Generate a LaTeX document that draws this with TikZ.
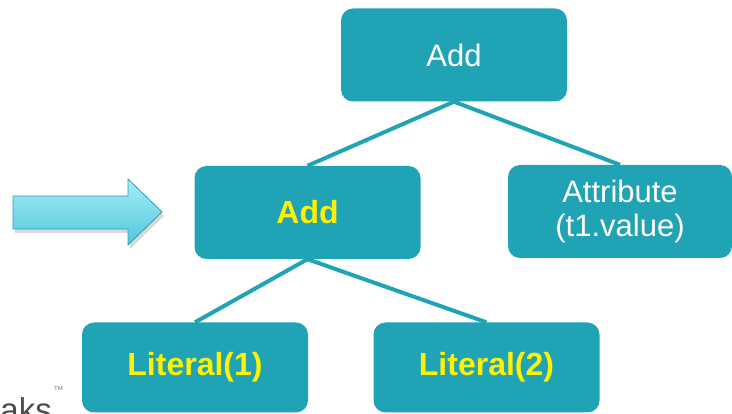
\documentclass[tikz,border=0pt]{standalone}
\usepackage{fontspec}
\setmainfont{Liberation Sans}
\definecolor{tealbox}{HTML}{1FA3B5}
\definecolor{arrowtop}{HTML}{A4EEF8}
\definecolor{arrowbot}{HTML}{52C6DA}
\definecolor{arrowedge}{HTML}{2E9FB3}
\begin{document}
\begin{tikzpicture}[x=1pt,y=-1pt,
  box/.style={draw=none, fill=tealbox, rounded corners=12pt, minimum width=226pt,
    minimum height=93pt, text=white, font=\fontsize{31}{34}\selectfont, align=center, inner sep=0pt},
  ybox/.style={box, text=yellow, font=\fontsize{32}{34}\selectfont\bfseries},
  link/.style={draw=tealbox, line width=4pt}]
\useasboundingbox (0,0) rectangle (732,414);
\begin{scope}
\clip (0,0) rectangle (732,414);
% logo fragment
\node[anchor=base east, inner sep=0pt, text=black!70, font=\fontsize{33}{33}\selectfont] (logo) at (52,422) {aks};
\node[anchor=west, inner sep=0pt, text=black!55, font=\fontsize{6}{6}\selectfont] (tm) at (54,388) {TM};
% nodes
\node[box] (root) at (454,55) {Add};
\node[ybox] (mid) at (307.5,212.5) {Add};
\node[box, minimum width=224pt] (attr) at (620,211.5) {Attribute\\(t1.value)};
\node[ybox, minimum height=90pt] (lit1) at (195,367.5) {Literal(1)};
\node[ybox, minimum height=90pt] (lit2) at (486.5,367.5) {Literal(2)};
% connectors
\draw[link] (root.south) -- (mid.north);
\draw[link] (root.south) -- (attr.north);
\draw[link] (mid.south) -- (lit1.north);
\draw[link] (mid.south) -- (lit2.north);
% block arrow
\fill[black, opacity=0.15] (15,200) -- (130,200) -- (130,183) -- (164,216) -- (130,249) -- (130,233) -- (15,233) -- cycle;
\shade[top color=arrowtop, bottom color=arrowbot, draw=arrowedge, line width=0.8pt]
  (13,196) -- (128,196) -- (128,179) -- (162,212) -- (128,245) -- (128,229) -- (13,229) -- cycle;
\end{scope}
\end{tikzpicture}
\end{document}
